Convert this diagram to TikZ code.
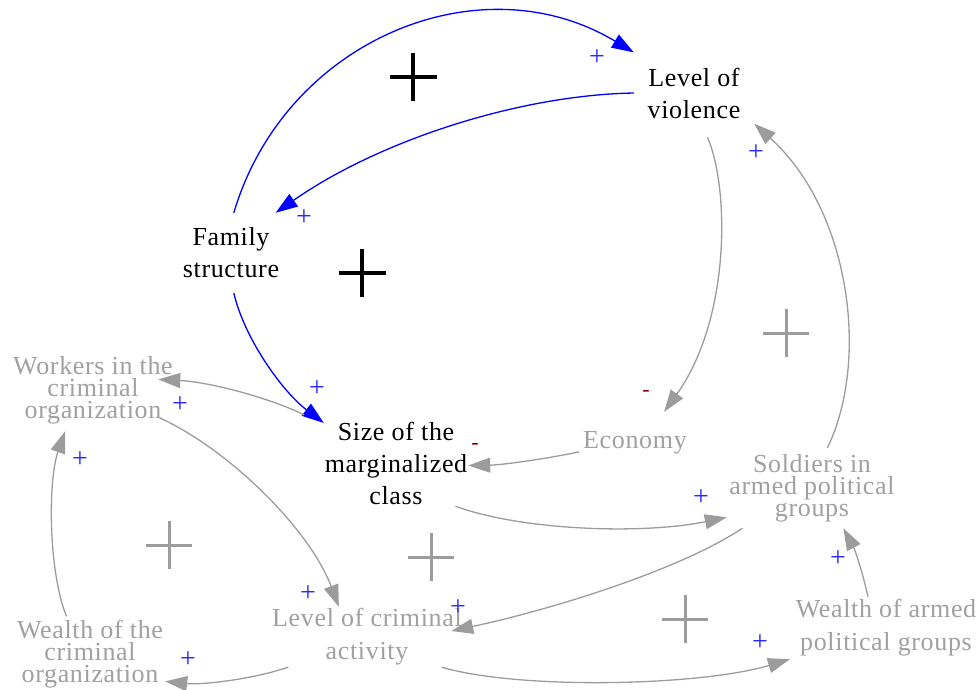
\documentclass[tikz,border=0pt]{standalone}
\usepackage{fontspec}
\setmainfont{Liberation Serif}[LetterSpace=2.5]
\usetikzlibrary{arrows.meta}
\definecolor{vargray}{RGB}{160,160,160}
\definecolor{linkgray}{RGB}{156,156,156}
\definecolor{posblue}{RGB}{40,40,255}
\definecolor{negred}{RGB}{150,0,0}
\begin{document}
\begin{tikzpicture}[x=1pt,y=-1pt,
  var/.style={align=center, inner sep=0pt},
  blk/.style={var, text=black, font=\fontsize{26}{32}\selectfont},
  grytight/.style={var, text=vargray, font=\fontsize{26}{22}\selectfont},
  gryloose/.style={var, text=vargray, font=\fontsize{26}{33}\selectfont},
  plussign/.style={text=posblue, inner sep=0pt, font=\fontsize{28}{28}\selectfont},
  minussign/.style={text=negred, inner sep=0pt, font=\fontsize{22}{22}\selectfont},
  tipstyle/.style={-{Triangle[length=22pt,width=15pt]}},
  bluelink/.style={tipstyle, draw=blue, line width=1.3pt},
  graylink/.style={tipstyle, draw=linkgray, line width=1.3pt},
  loopblack/.style={draw=black, line width=3.2pt},
  loopgray/.style={draw=linkgray, line width=3pt}
]
\useasboundingbox (0,0) rectangle (979,689);

% variables (box sizes set where the links attach)
\node[blk, minimum width=120, minimum height=88] (lv) at (694,93) {Level of\\violence};
\node[blk, minimum width=96, minimum height=80] (fs) at (231,253) {Family\\structure};
\node[blk, minimum width=144, minimum height=86] (sz) at (396,463) {Size of the\\marginalized\\class};
\node[grytight, minimum width=160, minimum height=82] (wk) at (93,390) {Workers in the\\criminal\\organization};
\node[gryloose, minimum width=111, minimum height=62] (ec) at (635,443) {Economy};
\node[grytight, minimum width=170, minimum height=80] (so) at (812,488) {Soldiers in\\armed political\\groups};
\node[gryloose, minimum width=189, minimum height=60] (lc) at (367,637) {Level of criminal\\activity};
\node[grytight, minimum width=150, minimum height=75] (wc) at (90,654) {Wealth of the\\criminal\\organization};
\node[gryloose, minimum width=201, minimum height=62] (wa) at (886,628) {Wealth of armed\\political groups};

% causal links of the main loop
\draw[bluelink] (fs.86) .. controls (285,40) and (480,-40) .. (lv.146);
\draw[bluelink] (lv.180) .. controls (520,95) and (380,140) .. (fs.42);
\draw[bluelink] (fs.-86) .. controls (245,340) and (283,392) .. (sz.151);

% remaining links
\draw[graylink] (lv.-73) .. controls (730,190) and (730,320) .. (ec.47);
\draw[graylink] (ec.189) .. controls (540,460) and (500,465) .. (sz.-2);
\draw[graylink, shorten <=22pt, shorten >=-15pt] (sz.152) .. controls (270,398) and (210,382) .. (wk.7);
\draw[graylink, shorten <=-15pt] (wk.-23) .. controls (230,450) and (310,530) .. (lc.133);
\draw[graylink] (wc.122) .. controls (48,570) and (48,480) .. (wk.236);
\draw[graylink] (lc.201) .. controls (250,680) and (200,685) .. (wc.-20);
\draw[graylink] (sz.-36) .. controls (520,530) and (640,535) .. (so.199);
\draw[graylink, shorten >=-11pt] (so.210) .. controls (680,570) and (550,610) .. (lc.5);
\draw[graylink] (so.69) .. controls (870,360) and (850,210) .. (lv.-27);
\draw[graylink] (wa.120) .. controls (862,570) and (855,550) .. (so.-52);
\draw[graylink] (lc.-22.5) .. controls (520,690) and (700,686) .. (wa.198);

% link polarities
\node[plussign] (p1) at (597,58) {+};
\node[plussign] (p2) at (304,218) {+};
\node[plussign] (p3) at (756,153) {+};
\node[plussign] (p4) at (317,389) {+};
\node[plussign] (p5) at (180,405) {+};
\node[plussign] (p6) at (80,460) {+};
\node[plussign] (p7) at (308,594) {+};
\node[plussign] (p8) at (458,608) {+};
\node[plussign] (p9) at (701,498) {+};
\node[plussign] (p10) at (838,559) {+};
\node[plussign] (p11) at (760,643) {+};
\node[plussign] (p12) at (188,660) {+};
\node[minussign] (n1) at (646,393) {-};
\node[minussign] (n2) at (475,446) {-};

% loop polarity markers
\draw[loopblack] (413,77) +(-23.5,0) -- +(23.5,0) +(0,-24) -- +(0,24);
\draw[loopblack] (362,273) +(-23.5,0) -- +(23.5,0) +(0,-24) -- +(0,24);
\draw[loopgray] (786,333) +(-23,0) -- +(23,0) +(0,-24) -- +(0,24);
\draw[loopgray] (169,545) +(-23,0) -- +(23,0) +(0,-24) -- +(0,24);
\draw[loopgray] (431,557) +(-23,0) -- +(23,0) +(0,-24) -- +(0,24);
\draw[loopgray] (685,619) +(-23,0) -- +(23,0) +(0,-24) -- +(0,24);
\end{tikzpicture}
\end{document}
